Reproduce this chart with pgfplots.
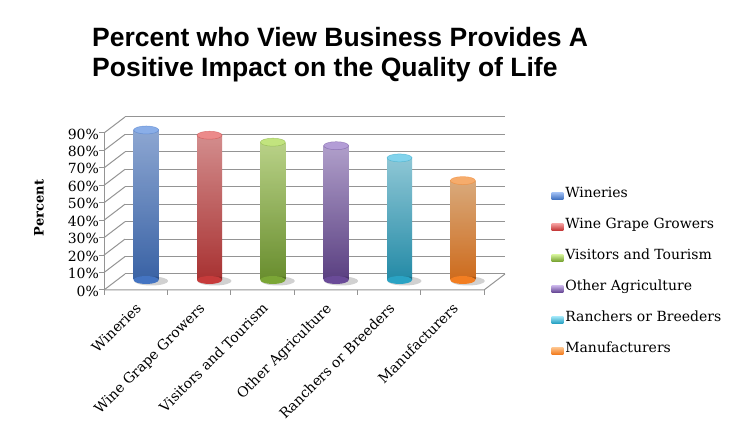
\documentclass[border=0pt]{standalone}
\usepackage{pgfplots}
\pgfplotsset{compat=1.18}
\usepackage{fontspec}
\setmainfont{DejaVu Serif}
\newfontfamily\titlefont{Liberation Sans}
\newcommand\tickfont{\fontsize{14pt}{16pt}\selectfont}

\definecolor{lgBlue}{HTML}{4F81BD}
\definecolor{lgRed}{HTML}{C0504D}
\definecolor{lgGreen}{HTML}{9BBB59}
\definecolor{lgPurple}{HTML}{8064A2}
\definecolor{lgCyan}{HTML}{4BACC6}
\definecolor{lgOrange}{HTML}{F79646}

\definecolor{blL}{HTML}{A6C4F7}\definecolor{blD}{HTML}{4474C2}\definecolor{blT}{HTML}{8AAEE8}
\definecolor{rdL}{HTML}{F8A6A6}\definecolor{rdD}{HTML}{C63B3B}\definecolor{rdT}{HTML}{EC8A8A}
\definecolor{grL}{HTML}{DAF7A0}\definecolor{grD}{HTML}{7BA636}\definecolor{grT}{HTML}{C2E47E}
\definecolor{puL}{HTML}{CFBBEE}\definecolor{puD}{HTML}{6A4B98}\definecolor{puT}{HTML}{B39DD6}
\definecolor{cyL}{HTML}{A8EAFB}\definecolor{cyD}{HTML}{2AA3C4}\definecolor{cyT}{HTML}{82D3EC}
\definecolor{orL}{HTML}{FFC892}\definecolor{orD}{HTML}{F27E22}\definecolor{orT}{HTML}{F6AC6C}

\pgfdeclareplotmark{cyltop}{\pgfpathellipse{\pgfpointorigin}{\pgfqpoint{12.5pt}{0pt}}{\pgfqpoint{0pt}{4pt}}\pgfusepathqfillstroke}
\pgfdeclareplotmark{cylbot}{\pgfpathellipse{\pgfpointorigin}{\pgfqpoint{12.5pt}{0pt}}{\pgfqpoint{0pt}{4pt}}\pgfusepathqfill}
\pgfdeclareplotmark{cylshadow}{\pgfpathellipse{\pgfqpoint{5pt}{-1pt}}{\pgfqpoint{17pt}{0pt}}{\pgfqpoint{0pt}{4.5pt}}\pgfusepathqfill}

\pgfplotsset{bshift/.style={xshift=-10.5pt, yshift=-6pt}}

% #1 x, #2 value, #3 light, #4 dark, #5 top, #6 legend colour, #7 name
\newcommand{\cyl}[7]{%
  \addplot[only marks, mark=cylbot, mark options={fill=#4, draw=none}, forget plot, bshift] coordinates {(#1,0)};
  \addplot[ybar, bar width=25pt, bar shift=0pt, draw=none, top color=#3, bottom color=#4, bshift,
    legend image code/.code={\fill[#6] (0pt,0.5pt) rectangle (11.6pt,7.5pt);}] coordinates {(#1,#2)};
  \addlegendentry{#7}
  \addplot[ybar, bar width=25pt, bar shift=0pt, draw=none, left color=black, middle color=white, right color=black, fill opacity=0.15, forget plot, bshift] coordinates {(#1,#2)};
  \addplot[only marks, mark=cyltop, mark options={fill=#5, draw=#4, draw opacity=0.5, line width=0.5pt}, forget plot, bshift] coordinates {(#1,#2)};
}

\begin{document}
\begin{tikzpicture}
\path[use as bounding box] (0,0) rectangle (749pt,443pt);
\node[anchor=base west, inner sep=0pt, font=\titlefont\bfseries\fontsize{26.5pt}{30pt}\selectfont] at (92pt,396pt) {Percent who View Business Provides A};
\node[anchor=base west, inner sep=0pt, font=\titlefont\bfseries\fontsize{26.5pt}{30pt}\selectfont] at (92pt,366pt) {Positive Impact on the Quality of Life};

\tikzset{frame/.style={draw=black!42, line width=1pt}}
\foreach \k in {0,...,9} {
  \draw[frame] (104pt,{153pt+17.444pt*\k}) -- (125pt,{169pt+17.444pt*\k});
  \draw[frame] (99pt,{153pt+17.444pt*\k}) -- (104pt,{153pt+17.444pt*\k});
}
\draw[frame] (104pt,153pt) -- (104pt,310pt);
\draw[frame] (104pt,153pt) -- (484pt,153pt) -- (505pt,169pt);
\foreach \j in {0,...,6} \draw[frame] ({104pt+63.333pt*\j},153pt) -- ++(0,-5pt);

\begin{axis}[
  at={(125pt,169pt)}, anchor=south west,
  scale only axis, width=380pt, height=157pt,
  xmin=-0.5, xmax=5.5, ymin=0, ymax=90,
  clip=false,
  axis line style={draw=none},
  major tick style={draw=none},
  ytick={0,10,20,30,40,50,60,70,80,90},
  yticklabels={0\%,10\%,20\%,30\%,40\%,50\%,60\%,70\%,80\%,90\%},
  ymajorgrids,
  grid style={draw=black!42, line width=1pt},
  xtick={0,1,2,3,4,5},
  xticklabels={Wineries,Wine Grape Growers,Visitors and Tourism,Other Agriculture,Ranchers or Breeders,Manufacturers},
  xticklabel style={xshift=-22pt, yshift=-23pt, rotate=45, anchor=north east, font=\tickfont},
  yticklabel style={xshift=-22.6pt, yshift=-17pt, anchor=east, font=\tickfont},
  ylabel={Percent},
  ylabel style={at={(axis description cs:-0.2263,0.4204)}, anchor=center, font=\bfseries\fontsize{13pt}{15pt}\selectfont},
  legend style={at={(axis description cs:1.1229,0.5541)}, anchor=north west, draw=none, fill=none,
    inner sep=0pt, outer sep=0pt, row sep=18pt, column sep=2pt,
    nodes={inner sep=0pt, text height=10pt, text depth=3pt, font=\tickfont}},
  legend cell align=left,
]
\addplot[only marks, mark=cylshadow, mark options={fill=black, draw=none, fill opacity=0.18}, forget plot, bshift]
  coordinates {(0,0) (1,0) (2,0) (3,0) (4,0) (5,0)};
\cyl{0}{86}{blL}{blD}{blT}{lgBlue}{Wineries}
\cyl{1}{83}{rdL}{rdD}{rdT}{lgRed}{Wine Grape Growers}
\cyl{2}{79}{grL}{grD}{grT}{lgGreen}{Visitors and Tourism}
\cyl{3}{77}{puL}{puD}{puT}{lgPurple}{Other Agriculture}
\cyl{4}{70}{cyL}{cyD}{cyT}{lgCyan}{Ranchers or Breeders}
\cyl{5}{57}{orL}{orD}{orT}{lgOrange}{Manufacturers}
\end{axis}
\end{tikzpicture}
\end{document}
